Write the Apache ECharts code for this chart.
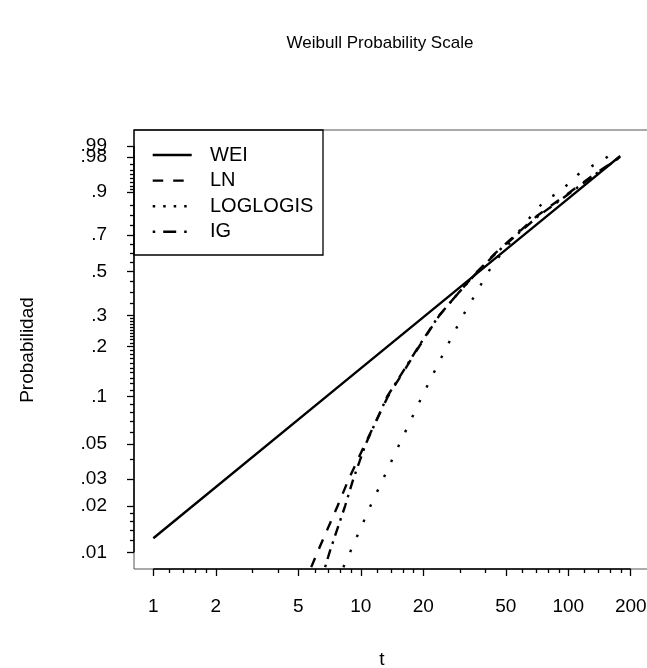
<!DOCTYPE html>
<html>
<head>
<meta charset="utf-8">
<script src="https://cdn.jsdelivr.net/npm/echarts@6/dist/echarts.min.js"></script>
<style>
  html, body { margin: 0; padding: 0; background: #fff; }
  #chart { width: 647px; height: 668px; }
</style>
</head>
<body>
<div id="chart"></div>
<script>
// axis ticks (t on log scale, p on weibull scale)
const tMajor = [1, 2, 5, 10, 20, 50, 100, 200]
const tMinor = [1.2, 1.4, 1.6, 1.8, 3, 4, 6, 7, 8, 9, 12, 14, 16, 18, 30, 40, 60, 70, 80, 90, 120, 140, 160, 180]
const pMajor = [0.01, 0.02, 0.03, 0.05, 0.1, 0.2, 0.3, 0.5, 0.7, 0.9, 0.98]
const pTop = [0.99]
const pMinor = [0.012, 0.014, 0.016, 0.018, 0.04, 0.06, 0.07, 0.08, 0.09,
  0.11, 0.12, 0.13, 0.14, 0.15, 0.16, 0.17, 0.18, 0.19,
  0.21, 0.22, 0.23, 0.24, 0.25, 0.26, 0.27, 0.28, 0.29,
  0.35, 0.4, 0.45, 0.55, 0.6, 0.65, 0.75, 0.8, 0.85,
  0.91, 0.92, 0.93, 0.94, 0.95, 0.96, 0.97]

// curves
const tWEI = [1, 10, 100, 177.9]
const pWEI = [0.01234, 0.1487, 0.8756, 0.981]

const tLN = [5.77, 6.18, 7.73, 8.76, 10.48, 13.51, 16.5, 19.08, 23.88, 29.82, 36.41, 44.5, 55.7, 70.8, 102.1, 133.2, 158.7, 177.9]
const pLN = [0.008, 0.01, 0.02, 0.03, 0.05, 0.1, 0.15, 0.2, 0.3, 0.4, 0.5, 0.6, 0.7, 0.8, 0.9, 0.95, 0.97, 0.98]

const tLOGLOGIS = [8.24, 8.88, 11.13, 12.82, 15.35, 19.73, 25.95, 31.07, 36.25, 41.2, 47.7, 55.96, 66.4, 77.4, 91.0, 111.3, 134.9, 154.5, 165.2]
const pLOGLOGIS = [0.008, 0.01, 0.02, 0.03, 0.05, 0.1, 0.2, 0.3, 0.4, 0.5, 0.6, 0.7, 0.8, 0.87, 0.9, 0.95, 0.97, 0.98, 0.9839]

const tIG = [6.73, 7.07, 8.40, 9.21, 10.56, 13.4, 16.4, 18.95, 23.8, 29.9, 36.6, 44.9, 56.3, 72.0, 103.5, 134.5, 159.5, 178.2]
const pIG = [0.008, 0.01, 0.02, 0.03, 0.05, 0.1, 0.15, 0.2, 0.3, 0.4, 0.5, 0.6, 0.7, 0.8, 0.9, 0.95, 0.97, 0.98]

const FONT = '"Liberation Sans", Arial, sans-serif'
const LW = 2.4
// dash patterns on the curves, and in the legend samples
const styles = {
  WEI: 'solid',
  LN: [10, 10],
  LOGLOGIS: [2.5, 14],
  IG: [2.5, 6, 10, 6]
}
const legendDash = {
  WEI: null,
  LN: [10.5, 10],
  LOGLOGIS: [2.5, 8],
  IG: [2.5, 8, 13, 8]
}

// weibull probability scale: log(-log(1-p))
function wq(p) { return Math.log(-Math.log(1 - p)) }
function lg(t) { return Math.log10(t) }
function pairs(t, p) { return t.map((v, i) => [lg(v), wq(p[i])]) }
function pLabel(v) {
  const all = pMajor.concat(pTop)
  let best = all[0]
  all.forEach(p => { if (Math.abs(wq(p) - v) < Math.abs(wq(best) - v)) best = p })
  return String(best).replace(/^0/, '')
}

const xMin = -0.093, xMax = 2.418
const yMin = -4.852, yMax = 1.769

const chart = echarts.init(document.getElementById('chart'), null, { renderer: 'canvas' })

function lineSeries(name, t, p) {
  return {
    name,
    type: 'line',
    data: pairs(t, p),
    showSymbol: false,
    silent: true,
    clip: true,
    lineStyle: { color: '#000', width: LW, type: styles[name], cap: 'butt' }
  }
}

const tickStyle = { color: '#000', width: 1.3 }
const labelBase = { show: true, fontSize: 19, fontFamily: FONT, color: '#000', hideOverlap: false }

function xAx(values, len, labels) {
  return {
    type: 'value', min: xMin, max: xMax, position: 'bottom',
    axisLine: { show: false, onZero: false },
    splitLine: { show: false },
    axisTick: { show: true, length: len, lineStyle: tickStyle, customValues: values },
    axisLabel: labels
      ? Object.assign({}, labelBase, { margin: 28, customValues: values, formatter: v => String(Math.round(Math.pow(10, v))) })
      : { show: false }
  }
}

function yAx(values, len, labels) {
  return {
    type: 'value', min: yMin, max: yMax, position: 'left',
    axisLine: { show: false, onZero: false },
    splitLine: { show: false },
    axisTick: { show: true, length: len, lineStyle: tickStyle, customValues: values },
    axisLabel: labels
      ? Object.assign({}, labelBase, { margin: 27, customValues: values, formatter: pLabel })
      : { show: false }
  }
}

const option = {
  animation: false,
  grid: {
    left: 134, top: 130, right: -8, bottom: 99,
    show: true, borderColor: '#555', borderWidth: 1,
    outerBoundsMode: 'none'
  },
  xAxis: [
    xAx(tMajor.map(lg), 7, true),
    xAx(tMinor.map(lg), 4, false)
  ],
  yAxis: [
    yAx(pMajor.map(wq), 7, true),
    yAx(pMinor.map(wq), 4, false),
    yAx(pTop.map(wq), 7, true)
  ],
  series: [
    lineSeries('WEI', tWEI, pWEI),
    lineSeries('LN', tLN, pLN),
    lineSeries('LOGLOGIS', tLOGLOGIS, pLOGLOGIS),
    lineSeries('IG', tIG, pIG)
  ]
}

chart.setOption(option)

// axis lines span first to last tick (R style), legend and titles
const px = (x, y) => chart.convertToPixel({ xAxisIndex: 0, yAxisIndex: 0 }, [x, y])
const xa = px(lg(tMajor[0]), yMin), xb = px(lg(tMajor[tMajor.length - 1]), yMin)
const ya = px(xMin, wq(pMajor[0])), yb = px(xMin, wq(pTop[0]))

const legendNames = ['WEI', 'LN', 'LOGLOGIS', 'IG']
const legendItems = []
legendNames.forEach((n, i) => {
  const cy = 155 + i * 25.6
  legendItems.push({
    type: 'line', shape: { x1: 152.7, y1: cy, x2: 191.7, y2: cy },
    style: { stroke: '#000', lineWidth: LW, lineDash: legendDash[n] }
  })
  legendItems.push({
    type: 'text', x: 210, y: cy,
    style: { text: n, font: '20px ' + FONT, fill: '#000', textVerticalAlign: 'middle' }
  })
})

chart.setOption({
  graphic: [
    { type: 'line', z: 50, shape: { x1: xa[0], y1: xa[1], x2: xb[0], y2: xb[1] }, style: { stroke: '#000', lineWidth: 1.5 } },
    { type: 'line', z: 50, shape: { x1: ya[0], y1: ya[1], x2: yb[0], y2: yb[1] }, style: { stroke: '#000', lineWidth: 1.5 } },
    { type: 'rect', z: 60, shape: { x: 134, y: 130, width: 189, height: 125 }, style: { fill: null, stroke: '#000', lineWidth: 1.3 } },
    { type: 'group', z: 60, children: legendItems },
    { type: 'text', z: 60, x: 380, y: 43, style: { text: 'Weibull Probability Scale', font: '17px ' + FONT, fill: '#000', textAlign: 'center', textVerticalAlign: 'middle' } },
    { type: 'text', z: 60, x: 382, y: 660, style: { text: 't', font: '19px ' + FONT, fill: '#000', textAlign: 'center', textVerticalAlign: 'middle' } },
    { type: 'text', z: 60, x: 28, y: 350, rotation: Math.PI / 2, style: { text: 'Probabilidad', font: '19px ' + FONT, fill: '#000', textAlign: 'center', textVerticalAlign: 'middle' } }
  ]
})

window.addEventListener('resize', () => chart.resize())
</script>
</body>
</html>
